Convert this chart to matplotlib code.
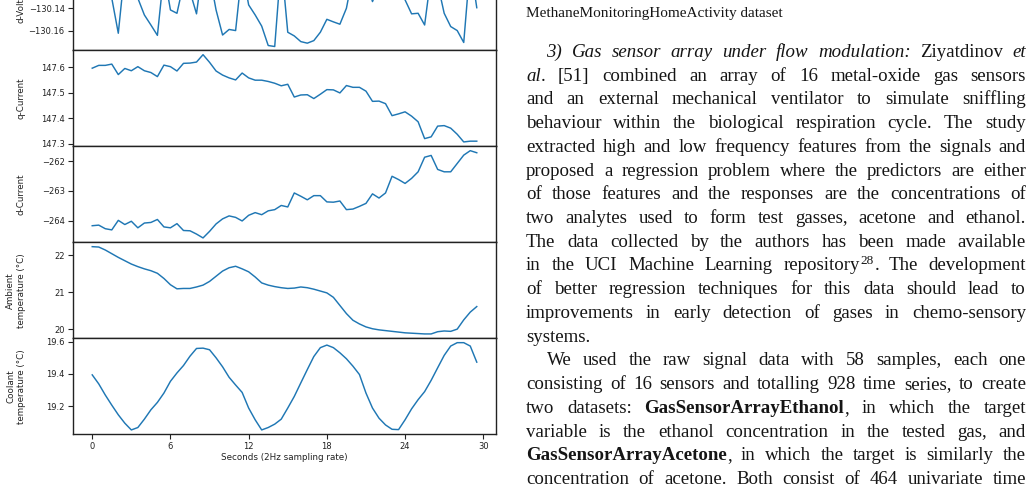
import matplotlib
matplotlib.use('Agg')
import matplotlib.pyplot as plt
import numpy as np

# ---------------- data ----------------
seconds = np.arange(60) * 0.5  # 2 Hz sampling

d_voltage = [-130.118, -130.112, -130.121, -130.131, -130.1624, -130.105, -130.116, -130.131,
             -130.146, -130.155, -130.1643, -130.108, -130.1415, -130.1445, -130.118, -130.125,
             -130.145, -130.100, -130.110, -130.1415, -130.164, -130.159, -130.160, -130.105,
             -130.137, -130.146, -130.156, -130.1734, -130.1743, -130.098, -130.1615, -130.1648,
             -130.1699, -130.1713, -130.169, -130.1615, -130.1499, -130.1522, -130.1543, -130.140,
             -130.110, -130.100, -130.115, -130.134, -130.120, -130.105, -130.110, -130.120,
             -130.1325, -130.145, -130.1445, -130.155, -130.110, -130.118, -130.1445, -130.1564,
             -130.160, -130.1707, -130.100, -130.1395]

q_current = [147.597, 147.608, 147.608, 147.613, 147.572, 147.596, 147.587, 147.603, 147.587, 147.580,
             147.564, 147.609, 147.603, 147.586, 147.616, 147.617, 147.621, 147.650, 147.620, 147.586,
             147.570, 147.559, 147.551, 147.578, 147.559, 147.550, 147.550, 147.545, 147.538, 147.528,
             147.534, 147.484, 147.492, 147.493, 147.478, 147.495, 147.513, 147.512, 147.500, 147.529,
             147.522, 147.522, 147.507, 147.467, 147.468, 147.458, 147.411, 147.418, 147.426, 147.409,
             147.387, 147.321, 147.328, 147.370, 147.372, 147.362, 147.338, 147.308, 147.311, 147.311]

d_current = [-264.17, -264.15, -264.27, -264.31, -263.99, -264.13, -264.02, -264.24, -264.08, -264.06,
             -263.96, -264.21, -264.24, -264.10, -264.33, -264.34, -264.45, -264.58, -264.36, -264.11,
             -263.94, -263.84, -263.89, -264.01, -263.82, -263.73, -263.80, -263.67, -263.63, -263.49,
             -263.54, -263.07, -263.18, -263.30, -263.16, -263.16, -263.37, -263.38, -263.34, -263.63,
             -263.61, -263.52, -263.42, -263.10, -263.24, -263.07, -262.51, -262.62, -262.75, -262.58,
             -262.36, -261.87, -261.81, -262.28, -262.36, -262.36, -262.08, -261.80, -261.65, -261.72]

ambient_temp = [22.23, 22.22, 22.14, 22.04, 21.94, 21.85, 21.76, 21.69, 21.63, 21.58,
                21.51, 21.37, 21.20, 21.09, 21.10, 21.10, 21.14, 21.19, 21.29, 21.43,
                21.57, 21.66, 21.70, 21.63, 21.55, 21.41, 21.25, 21.19, 21.15, 21.12,
                21.10, 21.11, 21.14, 21.12, 21.08, 21.03, 20.98, 20.86, 20.64, 20.42,
                20.24, 20.14, 20.06, 20.01, 19.98, 19.96, 19.94, 19.92, 19.90, 19.89,
                19.88, 19.87, 19.87, 19.93, 19.95, 19.94, 20.00, 20.25, 20.46, 20.61]

coolant_temp = [19.394, 19.338, 19.269, 19.206, 19.146, 19.094, 19.052, 19.067, 19.119, 19.177,
                19.223, 19.281, 19.354, 19.406, 19.452, 19.510, 19.558, 19.560, 19.550, 19.500,
                19.444, 19.379, 19.331, 19.285, 19.188, 19.115, 19.052, 19.067, 19.088, 19.119,
                19.188, 19.260, 19.344, 19.427, 19.508, 19.563, 19.579, 19.563, 19.531, 19.494,
                19.448, 19.396, 19.281, 19.188, 19.125, 19.083, 19.056, 19.054, 19.115, 19.183,
                19.240, 19.290, 19.360, 19.438, 19.515, 19.573, 19.594, 19.594, 19.573, 19.473]

series = [d_voltage, q_current, d_current, ambient_temp, coolant_temp]
panel_labels = ['d-Voltage', 'q-Current', 'd-Current',
                'Ambient\ntemperature (°C)', 'Coolant\ntemperature (°C)']
x_ticks = [0, 6, 12, 18, 24, 30]
x_label = 'Seconds (2Hz sampling rate)'

caption_text = 'MethaneMonitoringHomeActivity dataset'

# Body text: (segments, justified, indent)
body_lines = [
    ([('3) Gas sensor array under flow modulation:', 'i'), (' Ziyatdinov ', 'r'), ('et', 'i')], True, True),
    ([('al', 'i'), ('. [51] combined an array of 16 metal-oxide gas sensors', 'r')], True, False),
    ([('and an external mechanical ventilator to simulate sniffling', 'r')], True, False),
    ([('behaviour within the biological respiration cycle. The study', 'r')], True, False),
    ([('extracted high and low frequency features from the signals and', 'r')], True, False),
    ([('proposed a regression problem where the predictors are either', 'r')], True, False),
    ([('of those features and the responses are the concentrations of', 'r')], True, False),
    ([('two analytes used to form test gasses, acetone and ethanol.', 'r')], True, False),
    ([('The data collected by the authors has been made available', 'r')], True, False),
    ([('in the UCI Machine Learning repository', 'r'), ('28', 's'), ('. The development', 'r')], True, False),
    ([('of better regression techniques for this data should lead to', 'r')], True, False),
    ([('improvements in early detection of gases in chemo-sensory', 'r')], True, False),
    ([('systems.', 'r')], False, False),
    ([('We used the raw signal data with 58 samples, each one', 'r')], True, True),
    ([('consisting of 16 sensors and totalling 928 time series, to create', 'r')], True, False),
    ([('two datasets: ', 'r'), ('GasSensorArrayEthanol', 'b'), (', in which the target', 'r')], True, False),
    ([('variable is the ethanol concentration in the tested gas, and', 'r')], True, False),
    ([('GasSensorArrayAcetone', 'b'), (', in which the target is similarly the', 'r')], True, False),
    ([('concentration of acetone. Both consist of 464 univariate time', 'r')], True, False),
    ([('series of length 7500', 'r')], False, False),
]

# ---------------- figure ----------------
W, H = 1036, 493
fig = plt.figure(figsize=(W / 100, H / 100), dpi=100)

left_px, right_px = 73, 496
last_bottom_px = 434.3
panel_h = 96.0
TICK_FS = 6.0
LABEL_FS = 6.3
line_color = '#1f77b4'
spine_color = '#222222'

axes = []
for k in range(5):
    b_px = last_bottom_px - (4 - k) * panel_h
    rect = [left_px / W, 1 - b_px / H, (right_px - left_px) / W, panel_h / H]
    ax = fig.add_axes(rect, sharex=axes[0] if axes else None)
    axes.append(ax)

for k, (ax, y, lab) in enumerate(zip(axes, series, panel_labels)):
    ax.plot(seconds, y, color=line_color, lw=1.05)
    ax.set_ylabel(lab, fontsize=LABEL_FS, color='#222222')
    ax.yaxis.set_label_coords(-0.112, 0.5)
    for sp in ax.spines.values():
        sp.set_color(spine_color)
        sp.set_linewidth(1.0)
    ax.tick_params(axis='y', labelsize=TICK_FS, length=3.5, width=0.8, pad=2.5,
                   colors='#222222')
    if k < 4:
        ax.tick_params(axis='x', bottom=False, labelbottom=False)
    else:
        ax.tick_params(axis='x', labelsize=TICK_FS, length=3.5, width=0.8, pad=1.8,
                       colors='#222222')

axes[0].set_ylim(-130.1777, -130.0916)
axes[-1].set_xticks(x_ticks)
axes[-1].set_xlabel(x_label, fontsize=LABEL_FS, color='#222222', labelpad=1.5)

# ---------------- text column ----------------
renderer = fig.canvas.get_renderer()
BODY_FS = 13.6
CAP_FS = 11.0
EM = BODY_FS * 100 / 72.0
SERIF = 'Liberation Serif'
TEXT_COLOR = '#151515'


def props(style, size=BODY_FS):
    p = dict(family=SERIF, fontsize=size, color=TEXT_COLOR)
    if style == 'i':
        p['fontstyle'] = 'italic'
    elif style == 'b':
        p['fontweight'] = 'bold'
    elif style == 's':
        p['fontsize'] = size * 0.7
    return p


def measure(s, style):
    t = fig.text(0, 0, s, **props(style))
    w = t.get_window_extent(renderer).width
    t.remove()
    return w


def split_words(segments):
    words = [[]]
    for txt, sty in segments:
        parts = txt.split(' ')
        for j, p in enumerate(parts):
            if j > 0:
                words.append([])
            if p:
                words[-1].append((p, sty))
    return [w for w in words if w]


def draw_line(segments, y_base, x0, x1, justify):
    words = split_words(segments)
    piece_w = [[measure(p, s) for p, s in w] for w in words]
    widths = [sum(pw) for pw in piece_w]
    if justify and len(words) > 1:
        gap = (x1 - x0 - sum(widths)) / (len(words) - 1)
    else:
        gap = 0.27 * EM
    x = x0
    for w, pw, wd in zip(words, piece_w, widths):
        xx = x
        for (p, s), pwi in zip(w, pw):
            dy = 0.36 * EM if s == 's' else 0.0
            fig.text(xx / W, 1 - (y_base - dy) / H, p, ha='left', va='baseline', **props(s))
            xx += pwi + (0.8 if s == 's' else 0.4)
        x += wd + gap


X0, X1 = 526.0, 1026.0
INDENT = 20.5
B0, LEAD = 57.0, 23.72

fig.text(X0 / W, 1 - 17.0 / H, caption_text, ha='left', va='baseline',
         family=SERIF, fontsize=CAP_FS, color=TEXT_COLOR)

for i, (segs, just, ind) in enumerate(body_lines):
    draw_line(segs, B0 + i * LEAD, X0 + (INDENT if ind else 0.0), X1, just)

fig.savefig('out.png', dpi=100)
